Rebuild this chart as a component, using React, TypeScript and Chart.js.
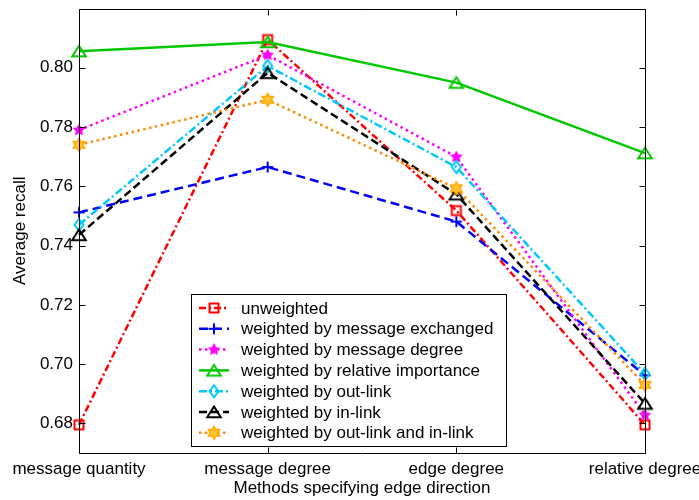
import React, { useEffect, useRef } from "react";
import { Chart, registerables } from "chart.js";

Chart.register(...registerables);

// Edge-direction methods on the x axis
const methods = ["message quantity", "message degree", "edge degree", "relative degree"];

// Average recall for each weighting scheme
const unweighted = [0.6795, 0.8095, 0.7518, 0.6795];
const byMessageExchanged = [0.7512, 0.7665, 0.7481, 0.6962];
const byMessageDegree = [0.779, 0.8043, 0.7699, 0.6828];
const byRelativeImportance = [0.8056, 0.8087, 0.795, 0.7712];
const byOutLink = [0.747, 0.8006, 0.7665, 0.6967];
const byInLink = [0.7436, 0.7983, 0.7573, 0.6867];
const byOutAndInLink = [0.774, 0.7892, 0.7593, 0.693];

const seriesNames = [
  "unweighted",
  "weighted by message exchanged",
  "weighted by message degree",
  "weighted by relative importance",
  "weighted by out-link",
  "weighted by in-link",
  "weighted by out-link and in-link",
];

const yTicks = [0.68, 0.7, 0.72, 0.74, 0.76, 0.78, 0.8];

const FONT = "'Liberation Sans', Arial, Helvetica, sans-serif";

type Draw = (g: CanvasRenderingContext2D) => void;

function marker(draw: Draw): HTMLCanvasElement {
  const c = document.createElement("canvas");
  c.width = 22;
  c.height = 22;
  const g = c.getContext("2d") as CanvasRenderingContext2D;
  g.translate(11, 11);
  g.lineJoin = "miter";
  draw(g);
  return c;
}

function polygon(g: CanvasRenderingContext2D, pts: number[][]) {
  g.beginPath();
  pts.forEach(([x, y], i) => (i ? g.lineTo(x, y) : g.moveTo(x, y)));
  g.closePath();
}

function starPoints(n: number, outer: number, inner: number): number[][] {
  const pts: number[][] = [];
  for (let i = 0; i < n * 2; i++) {
    const r = i % 2 ? inner : outer;
    const a = -Math.PI / 2 + (i * Math.PI) / n;
    pts.push([r * Math.cos(a), r * Math.sin(a)]);
  }
  return pts;
}

const squareMarker = marker((g) => {
  g.strokeStyle = "#ff0000";
  g.lineWidth = 2;
  g.strokeRect(-4.5, -4.5, 9, 9);
});

const plusMarker = marker((g) => {
  g.strokeStyle = "#0000ff";
  g.lineWidth = 2;
  g.beginPath();
  g.moveTo(-5.5, 0);
  g.lineTo(5.5, 0);
  g.moveTo(0, -5.5);
  g.lineTo(0, 5.5);
  g.stroke();
});

const pentagramMarker = marker((g) => {
  g.fillStyle = "#ff00ff";
  g.strokeStyle = "#ff00ff";
  g.lineWidth = 1.5;
  polygon(g, starPoints(5, 5, 2.6));
  g.fill();
  g.stroke();
});

const triangle = (color: string) =>
  marker((g) => {
    g.strokeStyle = color;
    g.lineWidth = 2;
    polygon(g, [
      [0, -5.5],
      [6.8, 5.2],
      [-6.8, 5.2],
    ]);
    g.stroke();
  });

const diamondMarker = marker((g) => {
  g.strokeStyle = "#00c8ff";
  g.lineWidth = 2;
  polygon(g, [
    [0, -6],
    [4.5, 0],
    [0, 6],
    [-4.5, 0],
  ]);
  g.stroke();
});

const hexagramMarker = marker((g) => {
  g.fillStyle = "#ffc233";
  g.strokeStyle = "#ffaa00";
  g.lineWidth = 1.6;
  polygon(g, starPoints(6, 6.4, 6.4 / Math.sqrt(3)));
  g.fill();
  g.stroke();
});

const seriesValues = [
  unweighted,
  byMessageExchanged,
  byMessageDegree,
  byRelativeImportance,
  byOutLink,
  byInLink,
  byOutAndInLink,
];
const seriesColors = ["#ff0000", "#0000ff", "#ff00ff", "#00c800", "#00c8ff", "#000000", "#ff8c00"];
const seriesDashes = [
  [7, 3, 2, 3],
  [9, 5],
  [2.5, 3.5],
  [],
  [8, 3, 2, 3],
  [8, 4],
  [2.5, 3.5],
];
const seriesMarkers = [
  squareMarker,
  plusMarker,
  pentagramMarker,
  triangle("#00c800"),
  diamondMarker,
  triangle("#000000"),
  hexagramMarker,
];

// Box around the plot with inward tick marks on all four sides
const framePlugin = {
  id: "frame",
  afterDatasetsDraw(chart: any) {
    const { ctx, chartArea: a, scales } = chart;
    const L = Math.round(a.left) + 0.5;
    const R = Math.round(a.right) + 0.5;
    const T = Math.round(a.top) + 0.5;
    const B = Math.round(a.bottom) + 0.5;
    ctx.save();
    ctx.strokeStyle = "#000";
    ctx.lineWidth = 1;
    ctx.beginPath();
    ctx.rect(L, T, R - L, B - T);
    const tick = 6;
    scales.y.ticks.forEach((t: any) => {
      const y = Math.round(scales.y.getPixelForValue(t.value)) + 0.5;
      ctx.moveTo(L, y);
      ctx.lineTo(L + tick, y);
      ctx.moveTo(R, y);
      ctx.lineTo(R - tick, y);
    });
    methods.forEach((_, i) => {
      const x = Math.round(scales.x.getPixelForValue(i)) + 0.5;
      ctx.moveTo(x, B);
      ctx.lineTo(x, B - tick);
      ctx.moveTo(x, T);
      ctx.lineTo(x, T + tick);
    });
    ctx.stroke();
    ctx.restore();
  },
};

// Boxed legend inside the plot area
const legendPlugin = {
  id: "boxLegend",
  afterDraw(chart: any) {
    const { ctx } = chart;
    const box = { x: 191.5, y: 294.5, w: 315, h: 152 };
    ctx.save();
    ctx.fillStyle = "#fff";
    ctx.fillRect(box.x, box.y, box.w, box.h);
    ctx.strokeStyle = "#000";
    ctx.lineWidth = 1;
    ctx.strokeRect(box.x, box.y, box.w, box.h);
    ctx.font = `17px ${FONT}`;
    ctx.textBaseline = "middle";
    ctx.textAlign = "left";
    chart.data.datasets.forEach((ds: any, i: number) => {
      const y = 308 + i * 20.8;
      ctx.strokeStyle = ds.borderColor;
      ctx.lineWidth = 2.5;
      ctx.setLineDash(ds.borderDash);
      ctx.beginPath();
      ctx.moveTo(199, y);
      ctx.lineTo(229, y);
      ctx.stroke();
      ctx.setLineDash([]);
      const m = ds.pointStyle as HTMLCanvasElement;
      ctx.drawImage(m, 214 - m.width / 2, y - m.height / 2);
      ctx.fillStyle = "#000";
      ctx.fillText(ds.label, 241, y + 1);
    });
    ctx.restore();
  },
};

export default function App() {
  const ref = useRef<HTMLCanvasElement | null>(null);

  useEffect(() => {
    document.body.style.margin = "0";
    const canvas = ref.current;
    if (!canvas) return;
    const chart = new Chart(canvas, {
      type: "line",
      data: {
        labels: methods,
        datasets: seriesValues.map((values, i) => ({
          label: seriesNames[i],
          data: values,
          borderColor: seriesColors[i],
          backgroundColor: seriesColors[i],
          borderWidth: 2.5,
          borderDash: seriesDashes[i],
          pointStyle: seriesMarkers[i],
          pointRadius: 6,
          pointHoverRadius: 6,
          tension: 0,
          fill: false,
          clip: false as any,
          order: seriesValues.length - i,
        })),
      },
      options: {
        responsive: false,
        animation: false,
        events: [],
        layout: { padding: { left: 0, top: 8, right: 54, bottom: 0 } },
        plugins: {
          legend: { display: false },
          tooltip: { enabled: false },
        },
        scales: {
          x: {
            type: "category",
            offset: false,
            grid: { display: false, drawTicks: false },
            border: { display: false },
            ticks: {
              color: "#000",
              font: { family: FONT, size: 17 },
              padding: 6,
              maxRotation: 0,
              autoSkip: false,
            },
            title: {
              display: true,
              text: "Methods specifying edge direction",
              color: "#000",
              font: { family: FONT, size: 17 },
              padding: { top: 0, bottom: 1 },
            },
            afterFit: (s: any) => {
              s.height = 47;
              s.paddingLeft = 0;
              s.paddingRight = 0;
            },
          },
          y: {
            min: 0.67,
            max: 0.82,
            grid: { display: false, drawTicks: false },
            border: { display: false },
            ticks: {
              color: "#000",
              font: { family: FONT, size: 17 },
              padding: 6,
              callback: (v: any) => Number(v).toFixed(2),
            },
            afterBuildTicks: (s: any) => {
              s.ticks = yTicks.map((value) => ({ value }));
            },
            title: {
              display: true,
              text: "Average recall",
              color: "#000",
              font: { family: FONT, size: 17 },
              padding: { top: 10, bottom: 0 },
            },
            afterFit: (s: any) => {
              s.width = 79;
              s.paddingTop = 0;
              s.paddingBottom = 0;
            },
          },
        },
      },
      plugins: [framePlugin, legendPlugin],
    });
    return () => chart.destroy();
  }, []);

  return <canvas ref={ref} width={699} height={500} style={{ display: "block" }} />;
}
